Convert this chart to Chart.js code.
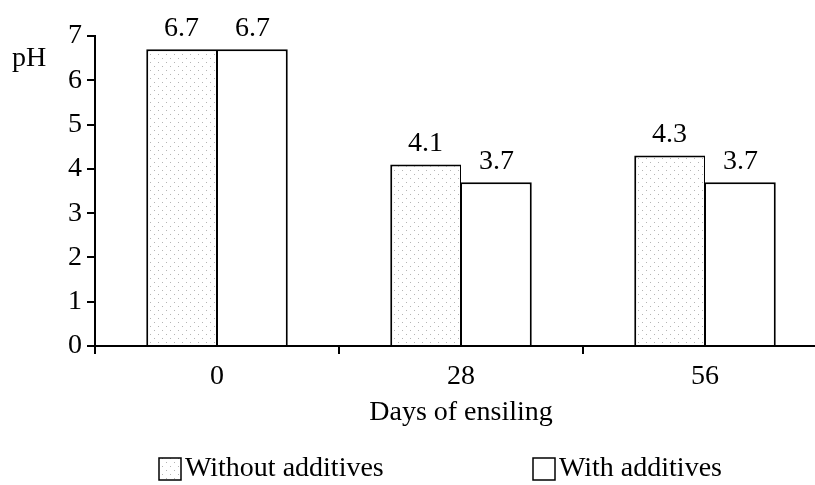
<!DOCTYPE html>
<html>
<head>
<meta charset="utf-8">
<script src="https://cdn.jsdelivr.net/npm/chart.js@4/dist/chart.umd.min.js"></script>
<style>
  html, body { margin: 0; padding: 0; background: #fff; overflow: hidden; }
  #wrap { width: 830px; height: 485px; }
</style>
</head>
<body>
<div id="wrap"><canvas id="c" width="830" height="485"></canvas></div>
<script>
// Days of ensiling and the pH measured on each day
const days = ['0', '28', '56'];
const withoutAdditives = [6.7, 4.1, 4.3];
const withAdditives = [6.7, 3.7, 3.7];
const seriesNames = ['Without additives', 'With additives'];
const yTicks = [0, 1, 2, 3, 4, 5, 6, 7];

const FONT = '"Liberation Serif", "Times New Roman", serif';
const FS = 28;

// sparse staggered dot fill for the untreated silage
function dotPattern() {
  const t = document.createElement('canvas');
  t.width = 8; t.height = 8;
  const g = t.getContext('2d');
  g.fillStyle = '#fff';
  g.fillRect(0, 0, 8, 8);
  g.fillStyle = '#b4b4b4';
  g.fillRect(2, 2, 1, 1);
  g.fillRect(6, 6, 1, 1);
  return g.createPattern(t, 'repeat');
}
const dots = dotPattern();

// value labels above the bars
const valueLabels = {
  id: 'valueLabels',
  afterDatasetsDraw(chart) {
    const ctx = chart.ctx;
    ctx.save();
    ctx.font = FS + 'px ' + FONT;
    ctx.fillStyle = '#000';
    ctx.textAlign = 'center';
    ctx.textBaseline = 'middle';
    chart.data.datasets.forEach((ds, i) => {
      chart.getDatasetMeta(i).data.forEach((bar, j) => {
        ctx.fillText(ds.data[j].toFixed(1), bar.x, bar.y - 21);
      });
    });
    ctx.restore();
  }
};

// axis caption "pH" and the legend row under the axis title
const extras = {
  id: 'extras',
  afterDraw(chart) {
    const ctx = chart.ctx;
    ctx.save();
    ctx.font = FS + 'px ' + FONT;
    ctx.fillStyle = '#000';
    ctx.textBaseline = 'middle';
    ctx.textAlign = 'left';
    ctx.fillText('pH', 12, 59);

    const items = [
      { x: 159, fill: dots, label: seriesNames[0] },
      { x: 533, fill: '#fff', label: seriesNames[1] }
    ];
    const yc = 469;
    items.forEach(it => {
      ctx.fillStyle = it.fill;
      ctx.fillRect(it.x, yc - 11, 22, 22);
      ctx.strokeStyle = '#000';
      ctx.lineWidth = 1.5;
      ctx.strokeRect(it.x, yc - 11, 22, 22);
      ctx.fillStyle = '#000';
      ctx.fillText(it.label, it.x + 26, yc);
    });
    ctx.restore();
  }
};

new Chart(document.getElementById('c'), {
  type: 'bar',
  data: {
    labels: days,
    datasets: [
      {
        label: seriesNames[0],
        data: withoutAdditives,
        backgroundColor: dots,
        borderColor: '#000',
        borderWidth: { top: 2, left: 2, right: 1, bottom: 0 },
        borderSkipped: 'bottom'
      },
      {
        label: seriesNames[1],
        data: withAdditives,
        backgroundColor: '#fff',
        borderColor: '#000',
        borderWidth: { top: 2, left: 1, right: 2, bottom: 0 },
        borderSkipped: 'bottom'
      }
    ]
  },
  options: {
    responsive: false,
    animation: false,
    layout: { padding: { top: 36, right: 3, bottom: 0, left: 0 } },
    datasets: { bar: { categoryPercentage: 0.58, barPercentage: 1.0 } },
    plugins: {
      legend: { display: false },
      tooltip: { enabled: false },
      title: { display: false }
    },
    scales: {
      x: {
        offset: true,
        grid: {
          display: true,
          offset: true,
          drawOnChartArea: false,
          drawTicks: true,
          tickLength: 8,
          color: '#000',
          lineWidth: 2
        },
        border: { display: true, color: '#000', width: 2 },
        ticks: {
          color: '#000',
          font: { family: FONT, size: FS },
          padding: 6,
          maxRotation: 0
        },
        title: {
          display: true,
          text: 'Days of ensiling',
          color: '#000',
          font: { family: FONT, size: FS },
          padding: { top: 0, bottom: 56 }
        },
        afterFit(scale) { scale.height = 139; }
      },
      y: {
        min: 0,
        max: 7,
        afterBuildTicks(scale) { scale.ticks = yTicks.map(v => ({ value: v })); },
        grid: {
          display: true,
          drawOnChartArea: false,
          drawTicks: true,
          tickLength: 8,
          color: '#000',
          lineWidth: 2
        },
        border: { display: true, color: '#000', width: 2 },
        ticks: {
          color: '#000',
          font: { family: FONT, size: FS },
          padding: 5,
          callback: v => String(v)
        },
        afterFit(scale) { scale.width = 95; }
      }
    }
  },
  plugins: [valueLabels, extras]
});
</script>
</body>
</html>
